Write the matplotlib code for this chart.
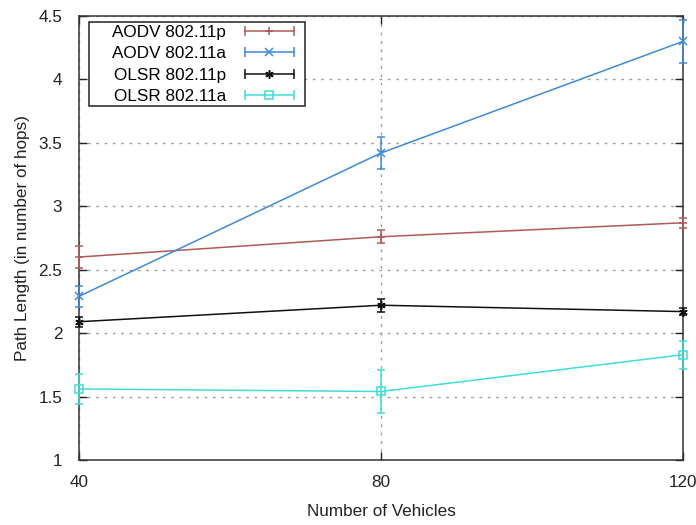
import matplotlib
matplotlib.use("Agg")
import numpy as np
from matplotlib import pyplot as plt
from matplotlib.lines import Line2D
from matplotlib.patches import Rectangle
from matplotlib.legend_handler import HandlerLine2D, HandlerTuple

plt.rcParams['font.family'] = ['Liberation Sans', 'DejaVu Sans']

vehicles = [40, 80, 120]

aodv_p = [2.60, 2.76, 2.87]
aodv_p_err = [0.09, 0.05, 0.04]
aodv_a = [2.29, 3.42, 4.30]
aodv_a_err = [0.08, 0.125, 0.17]
olsr_p = [2.09, 2.22, 2.17]
olsr_p_err = [0.04, 0.05, 0.03]
olsr_a = [1.56, 1.54, 1.83]
olsr_a_err = [0.12, 0.17, 0.11]

labels = ["AODV 802.11p", "AODV 802.11a", "OLSR 802.11p", "OLSR 802.11a"]
colors = ["#b05a58", "#3f8ad8", "#111111", "#3fdcd8"]
markers = ["+", "x", (6, 2, 0), "s"]

fig = plt.figure(figsize=(6.96, 5.25), dpi=100)
ax = fig.add_axes([79 / 696, 1 - 460 / 525, 604 / 696, 444 / 525])

series = [(aodv_p, aodv_p_err), (aodv_a, aodv_a_err), (olsr_p, olsr_p_err), (olsr_a, olsr_a_err)]
handles = []
hmap = {}
for (vals, errs), lab, c, m in zip(series, labels, colors, markers):
    eb = ax.errorbar(vehicles, vals, yerr=errs, color=c, lw=1.1, elinewidth=1.1, capsize=2.6,
                     capthick=1.1, marker=m, ms=6, mfc="none", mew=1.1, zorder=3)
    # let marks at x=40 / x=120 spill over the frame like gnuplot does
    for a in eb.get_children():
        a.set_clip_on(False)
    # legend sample: line with caps at both ends and the marker in the middle
    caps = Line2D([], [], color=c, lw=1.1, marker="|", ms=7, mew=1.1)
    mark = Line2D([], [], color=c, lw=0, marker=m, ms=6, mfc="none", mew=1.1)
    hmap[caps] = HandlerLine2D(numpoints=2)
    hmap[mark] = HandlerLine2D(numpoints=1)
    handles.append((caps, mark))
hmap[tuple] = HandlerTuple(ndivide=1, pad=0)

ax.set_xlim(40, 120)
ax.set_ylim(1, 4.5)
ax.set_xticks([40, 80, 120])
ax.set_yticks(np.arange(1, 4.51, 0.5))
ax.set_yticklabels(["1", "1.5", "2", "2.5", "3", "3.5", "4", "4.5"])
ax.tick_params(direction="in", length=6, width=1, top=True, right=True,
               labelsize=12.3, colors="#222222")
ax.tick_params(axis="y", pad=12)
ax.tick_params(axis="x", pad=11)
ax.grid(True, color="#a0a0a0", linestyle=(0, (2, 4)), linewidth=1)
for s in ax.spines.values():
    s.set_color("#333333")
    s.set_linewidth(1.1)

ax.set_xlabel("Number of Vehicles", fontsize=12.3, color="#222222", labelpad=10)
ax.set_ylabel("Path Length (in number of hops)", fontsize=12.3, color="#222222", labelpad=6)

# legend box drawn separately so its padding can match gnuplot's key
ax.add_patch(Rectangle((10 / 604, 1 - 90 / 444), 216 / 604, 84 / 444, transform=ax.transAxes,
                       facecolor="white", edgecolor="#222222", lw=1.1, zorder=4))
leg = ax.legend(handles, labels, handler_map=hmap, loc="upper right",
                bbox_to_anchor=(222 / 604, 1 - 7 / 444), borderaxespad=0,
                markerfirst=False, fontsize=12.3, frameon=False, handlelength=3.5,
                handletextpad=0.8, labelspacing=0.38, borderpad=0.1)
leg.set_zorder(5)

plt.savefig("out.png", dpi=100)
